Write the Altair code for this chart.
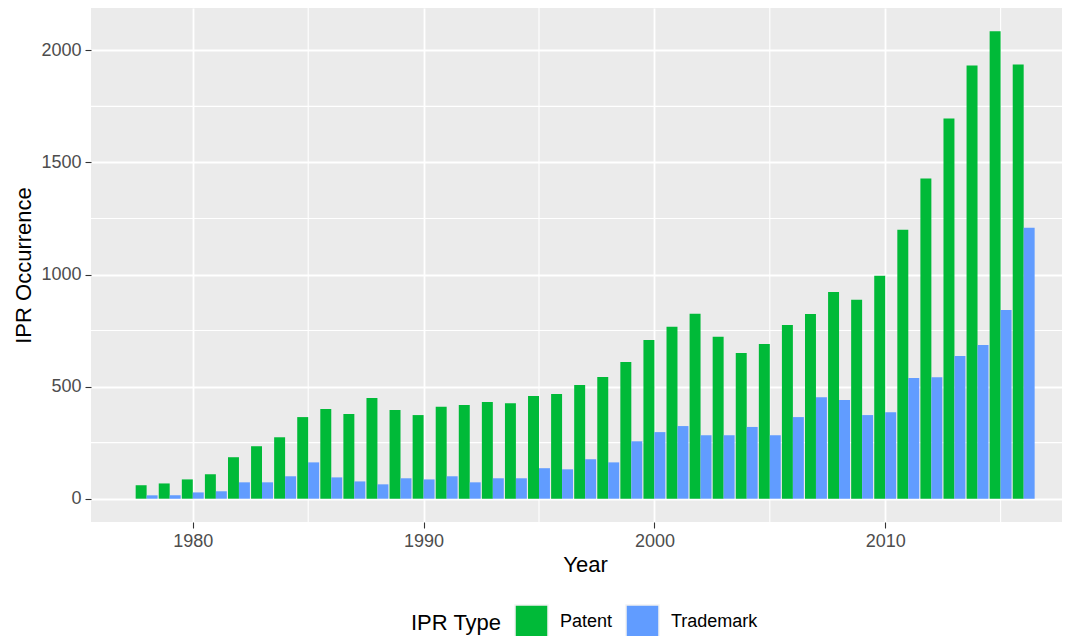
import altair as alt
import pandas as pd

years = list(range(1978, 2017))
patent = [60, 68, 86, 109, 185, 234, 274, 364, 400, 378, 449, 396, 373, 410, 418,
          431, 426, 458, 467, 507, 543, 610, 708, 767, 825, 722, 650, 690, 775, 824,
          922, 887, 994, 1200, 1428, 1696, 1933, 2085, 1937]
trademark = [15, 15, 28, 33, 73, 73, 100, 162, 95, 77, 64, 91, 86, 100, 73, 91, 91,
             136, 131, 176, 162, 256, 297, 324, 283, 283, 320, 283, 364, 453, 440,
             373, 386, 538, 542, 636, 686, 842, 1209]
types = ["Patent", "Trademark"]
colors = ["#00BA38", "#619CFF"]

y_major = [0, 500, 1000, 1500, 2000]
y_minor = [250, 750, 1250, 1750]
x_major = [1980, 1990, 2000, 2010]
x_minor = [1985, 1995, 2005, 2015]

rows = []
for yr, p, t in zip(years, patent, trademark):
    rows.append({"Year": yr, "Type": "Patent", "Count": p})
    rows.append({"Year": yr, "Type": "Trademark", "Count": t})
df = pd.DataFrame(rows)

FONT = "Liberation Sans"
xscale = alt.Scale(domain=[1975.59, 2017.66], nice=False, zero=False)
yscale = alt.Scale(domain=[-104, 2189], nice=False, zero=False)

x_axis = alt.Axis(
    values=x_major, format="d", title="Year",
    titleX=494, titleY=49, titleBaseline="alphabetic", titleAlign="center",
)
y_axis = alt.Axis(
    values=y_major, format="d", title="IPR Occurrence",
    titleX=-61, titleY=257, titleAngle=270, titleBaseline="alphabetic",
    titleAlign="center",
)

minor_y = alt.Chart(pd.DataFrame({"v": y_minor})).mark_rule(
    color="white", strokeWidth=1.1
).encode(y=alt.Y("v:Q", scale=yscale, axis=y_axis, title="IPR Occurrence"))

minor_x = alt.Chart(pd.DataFrame({"v": x_minor})).mark_rule(
    color="white", strokeWidth=1.1
).encode(x=alt.X("v:Q", scale=xscale, axis=x_axis, title="Year"))

bars = alt.Chart(df).transform_calculate(
    x0="datum.Year - 0.475 + (datum.Type == 'Trademark' ? 0.475 : 0)",
    x1="datum.Year + (datum.Type == 'Trademark' ? 0.475 : 0)",
).mark_bar().encode(
    x=alt.X("x0:Q", scale=xscale, axis=x_axis, title="Year"),
    x2="x1:Q",
    y=alt.Y("Count:Q", scale=yscale, axis=y_axis, title="IPR Occurrence"),
    y2=alt.datum(0),
    color=alt.Color(
        "Type:N",
        scale=alt.Scale(domain=types, range=colors),
        legend=alt.Legend(
            title="IPR Type", orient="none", legendX=320, legendY=596,
            direction="horizontal", titleOrient="left",
            symbolType="square", symbolSize=1089,
            symbolStrokeColor="#F2F2F2", symbolStrokeWidth=1.5,
            titleFontSize=22, titleFont=FONT, titleFontWeight="normal",
            titleColor="black", titlePadding=12, titleBaseline="middle",
            labelFontSize=18, labelFont=FONT, labelColor="black",
            labelOffset=11, columnPadding=10, padding=0,
        ),
    ),
)

chart = alt.layer(minor_y, minor_x, bars).properties(
    width=971, height=514,
    autosize=alt.AutoSizeParams(type="none"),
    padding={"left": 83, "top": 0, "right": 0, "bottom": 114},
).configure_view(
    fill="#EBEBEB", stroke=None
).configure_axis(
    grid=True, gridColor="white", gridWidth=1.8,
    domain=False, tickColor="#333333", tickSize=6, tickWidth=1.1,
    labelFont=FONT, labelFontSize=18, labelColor="#4D4D4D", labelPadding=4,
    titleFont=FONT, titleFontSize=22, titleFontWeight="normal", titleColor="black",
)

chart.save("out.html", embed_options={"renderer": "svg", "actions": False})
